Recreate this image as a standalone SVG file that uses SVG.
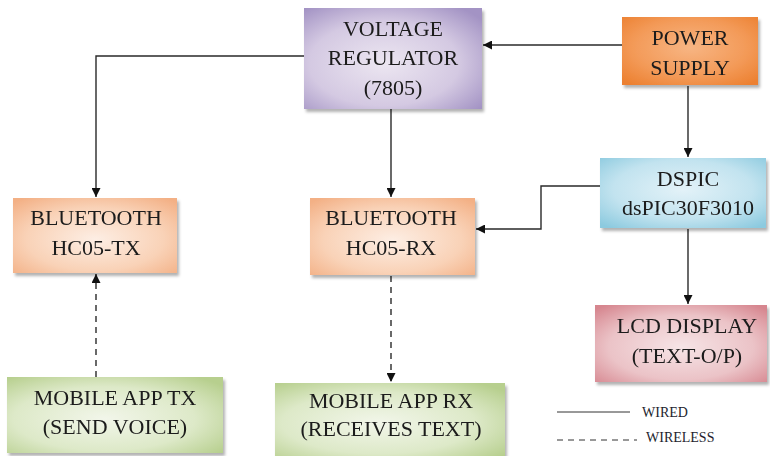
<svg xmlns="http://www.w3.org/2000/svg" width="770" height="456" viewBox="0 0 770 456">
<style>
.t{font-family:"Liberation Serif","Times New Roman","DejaVu Serif",serif;font-size:22px;fill:#1a1a1a;text-anchor:middle}
.lg{font-family:"Liberation Serif","Times New Roman","DejaVu Serif",serif;font-size:14px;fill:#1e1e2e}
.w{stroke:#2a2a2a;stroke-width:1.4;fill:none}
.d{stroke:#2a2a2a;stroke-width:1.4;fill:none;stroke-dasharray:6,5}
.box{filter:url(#sh)}
</style>
<defs>
<filter id="sh" x="-10%" y="-10%" width="125%" height="130%">
<feDropShadow dx="2" dy="3" stdDeviation="1.5" flood-color="#000" flood-opacity="0.3"/>
</filter>
<marker id="ah" viewBox="0 0 10 10" refX="10" refY="5" markerWidth="9" markerHeight="9" markerUnits="userSpaceOnUse" orient="auto">
<path d="M0,0 L10,5 L0,10 z" fill="#111"/>
</marker>
<radialGradient id="gP" cx="45%" cy="55%" r="70%"><stop offset="0" stop-color="#ece6f1"/><stop offset="0.6" stop-color="#d4c9e2"/><stop offset="1" stop-color="#a393c4"/></radialGradient>
<radialGradient id="gO" cx="50%" cy="45%" r="70%"><stop offset="0" stop-color="#f7b583"/><stop offset="0.6" stop-color="#f39a58"/><stop offset="1" stop-color="#ec8030"/></radialGradient>
<radialGradient id="gB" cx="50%" cy="45%" r="70%"><stop offset="0" stop-color="#e3f2f8"/><stop offset="0.6" stop-color="#c2e3ef"/><stop offset="1" stop-color="#8ccadf"/></radialGradient>
<radialGradient id="gT" cx="50%" cy="55%" r="70%"><stop offset="0" stop-color="#fdeee4"/><stop offset="0.6" stop-color="#f9d2b7"/><stop offset="1" stop-color="#f3b085"/></radialGradient>
<radialGradient id="gL" cx="50%" cy="55%" r="70%"><stop offset="0" stop-color="#f6e4e6"/><stop offset="0.6" stop-color="#ebc3c7"/><stop offset="1" stop-color="#d6868f"/></radialGradient>
<radialGradient id="gG" cx="45%" cy="55%" r="70%"><stop offset="0" stop-color="#f2f6ea"/><stop offset="0.6" stop-color="#dde9c8"/><stop offset="1" stop-color="#b7cf8e"/></radialGradient>
</defs>

<g id="connectors">
<line class="w" x1="622" y1="45" x2="483" y2="45" marker-end="url(#ah)"/>
<line class="w" x1="688" y1="86" x2="688" y2="157" marker-end="url(#ah)"/>
<polyline class="w" points="304,56 96,56 96,197" marker-end="url(#ah)"/>
<line class="w" x1="391" y1="109" x2="391" y2="197" marker-end="url(#ah)"/>
<polyline class="w" points="600,186 541,186 541,229 476,229" marker-end="url(#ah)"/>
<line class="w" x1="688" y1="229" x2="688" y2="304" marker-end="url(#ah)"/>
<line class="d" x1="96" y1="377" x2="96" y2="274" marker-end="url(#ah)"/>
<line class="d" x1="391" y1="276" x2="391" y2="382" marker-end="url(#ah)"/>
</g>

<g id="voltage-regulator" class="box">
<rect x="304" y="8" width="178" height="101" fill="url(#gP)"/>
<text class="t" x="393" y="36">VOLTAGE</text>
<text class="t" x="393" y="65">REGULATOR</text>
<text class="t" x="393" y="95">(7805)</text>
</g>

<g id="power-supply" class="box">
<rect x="622" y="17" width="136" height="68" fill="url(#gO)"/>
<text class="t" x="690" y="45">POWER</text>
<text class="t" x="690" y="75">SUPPLY</text>
</g>

<g id="dspic" class="box">
<rect x="600" y="158" width="166" height="70" fill="url(#gB)"/>
<text class="t" x="688" y="186">DSPIC</text>
<text class="t" x="688" y="215">dsPIC30F3010</text>
</g>

<g id="bluetooth-tx" class="box">
<rect x="13" y="198" width="164" height="75" fill="url(#gT)"/>
<text class="t" x="96" y="225">BLUETOOTH</text>
<text class="t" x="96" y="255">HC05-TX</text>
</g>

<g id="bluetooth-rx" class="box">
<rect x="310" y="198" width="165" height="77" fill="url(#gT)"/>
<text class="t" x="391" y="225">BLUETOOTH</text>
<text class="t" x="391" y="255">HC05-RX</text>
</g>

<g id="lcd-display" class="box">
<rect x="595" y="305" width="172" height="77" fill="url(#gL)"/>
<text class="t" x="687" y="333">LCD DISPLAY</text>
<text class="t" x="687" y="363">(TEXT-O/P)</text>
</g>

<g id="mobile-app-tx" class="box">
<rect x="7" y="377" width="216" height="76" fill="url(#gG)"/>
<text class="t" x="115" y="405">MOBILE APP TX</text>
<text class="t" x="115" y="434">(SEND VOICE)</text>
</g>

<g id="mobile-app-rx" class="box">
<rect x="275" y="383" width="230" height="73" fill="url(#gG)"/>
<text class="t" x="391" y="408">MOBILE APP RX</text>
<text class="t" x="391" y="436">(RECEIVES TEXT)</text>
</g>

<g id="legend">
<line x1="557" y1="412" x2="630" y2="412" stroke="#333" stroke-width="1"/>
<text class="lg" x="642" y="417">WIRED</text>
<line x1="557" y1="440" x2="637" y2="440" stroke="#333" stroke-width="1" stroke-dasharray="6,5"/>
<text class="lg" x="646" y="442">WIRELESS</text>
</g>
</svg>
